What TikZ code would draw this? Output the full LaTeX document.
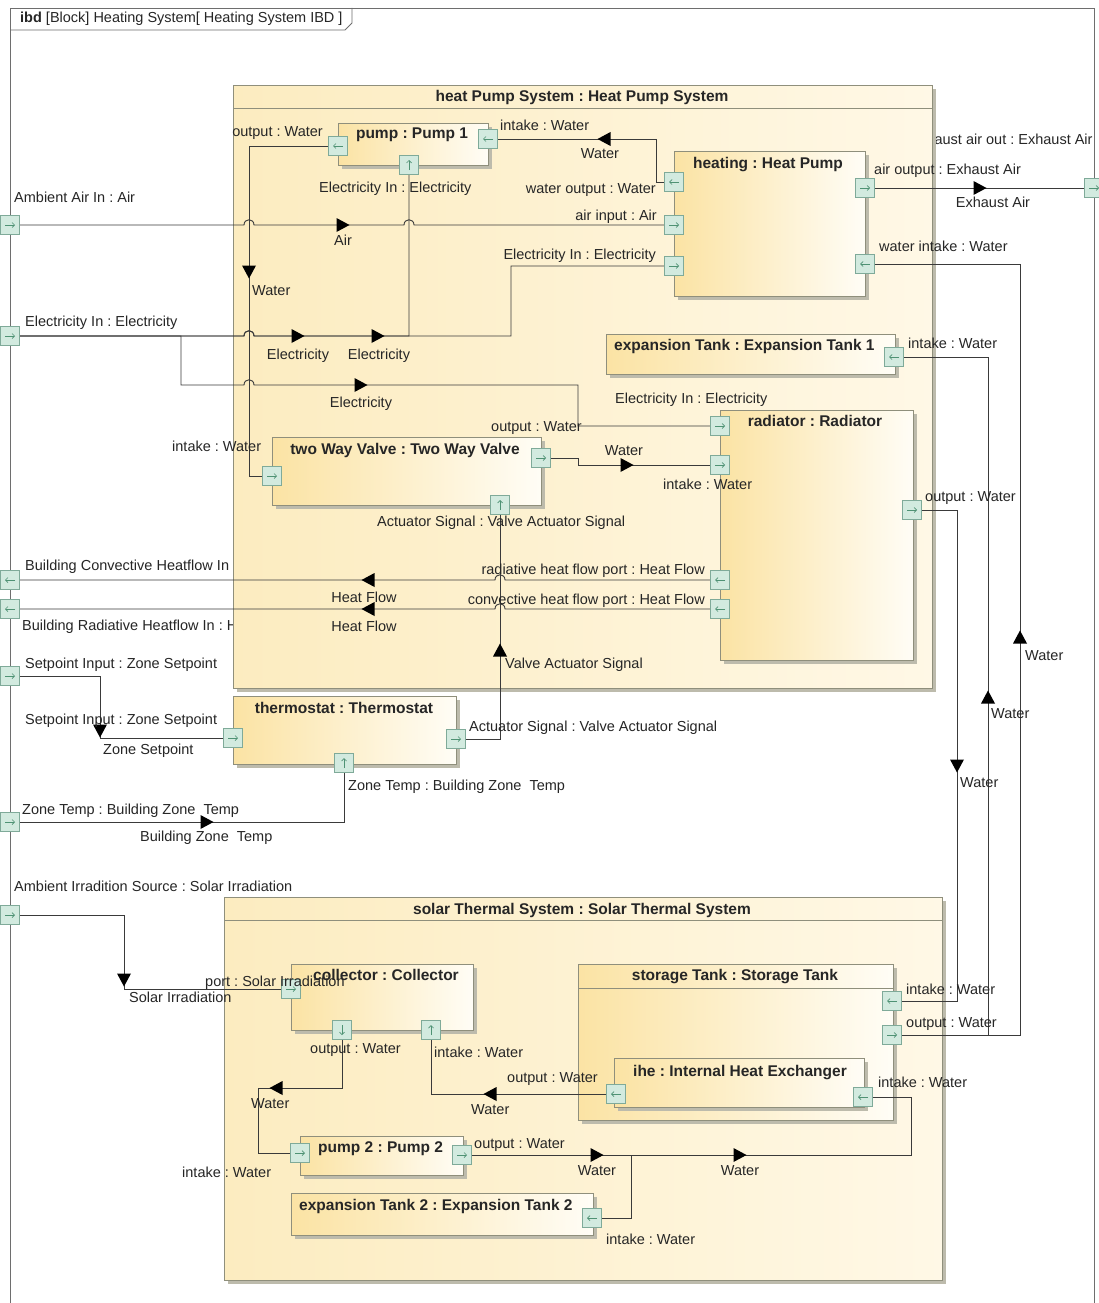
\documentclass[tikz,border=0pt]{standalone}
\usepackage{fontspec}
\setmainfont{Liberation Sans}
\usetikzlibrary{arrows.meta,shadows}
\pgfdeclarelayer{back}
\pgfdeclarelayer{conn}
\pgfsetlayers{back,conn,main}
\frenchspacing

\definecolor{linec}{HTML}{3A3A3A}
\definecolor{txtc}{HTML}{262626}
\definecolor{bordc}{HTML}{8F8F7C}
\definecolor{bigL}{HTML}{FCECC0}
\definecolor{bigR}{HTML}{FFF8E6}
\definecolor{blkL}{HTML}{FBE3A4}
\definecolor{blkR}{HTML}{FFFDF6}
\definecolor{shadc}{HTML}{BDBBAC}
\definecolor{portF}{HTML}{D2EADF}
\definecolor{portD}{HTML}{7FAA99}
\definecolor{glyphc}{HTML}{4F9274}
\definecolor{framec}{HTML}{6E6E6E}

\tikzset{
 lbl/.style={font=\fontsize{14.5}{17}\selectfont, text=txtc, inner sep=0pt},
 ttl/.style={font=\fontsize{15.5}{18}\selectfont\bfseries, text=txtc, inner sep=0pt},
 bigblk/.style={draw=bordc, line width=0.9pt, left color=bigL, right color=bigR,
   drop shadow={shadow xshift=4pt, shadow yshift=-4pt, fill=shadc, opacity=1},
   inner sep=0pt, anchor=north west},
 blk/.style={draw=bordc, line width=0.9pt, left color=blkL, right color=blkR,
   drop shadow={shadow xshift=4pt, shadow yshift=-4pt, fill=shadc, opacity=1},
   inner sep=0pt, anchor=north west},
 port/.style={draw=portD, fill=portF, minimum size=19pt, inner sep=0pt, line width=0.8pt},
 pglyph/.style={draw=glyphc, line width=0.7pt, -{Straight Barb[length=2.5pt,width=5pt]}},
 conn/.style={draw=linec, line width=0.9pt},
 tri/.style={fill=black},
 sep/.style={draw=bordc, line width=0.9pt},
}

\newcommand\mkblk[6][blk]{\node[#1, minimum width={(#5-#3)*1pt}, minimum height={(#6-#4)*1pt}] (#2) at (#3,#4) {};}
\newcommand\portR[3]{\node[port] (#1) at (#2,#3) {}; \draw[pglyph] ({#2-5},#3) -- ({#2+5},#3);}
\newcommand\portL[3]{\node[port] (#1) at (#2,#3) {}; \draw[pglyph] ({#2+5},#3) -- ({#2-5},#3);}
\newcommand\portU[3]{\node[port] (#1) at (#2,#3) {}; \draw[pglyph] (#2,{#3+5}) -- (#2,{#3-5});}
\newcommand\portD[3]{\node[port] (#1) at (#2,#3) {}; \draw[pglyph] (#2,{#3-5}) -- (#2,{#3+5});}
\newcommand\triR[2]{\fill[tri] ({#1-6.5},{#2-7}) -- ({#1+6.5},#2) -- ({#1-6.5},{#2+7}) -- cycle;}
\newcommand\triL[2]{\fill[tri] ({#1+6.5},{#2-7}) -- ({#1-6.5},#2) -- ({#1+6.5},{#2+7}) -- cycle;}
\newcommand\triU[2]{\fill[tri] ({#1-7},{#2+6.5}) -- (#1,{#2-6.5}) -- ({#1+7},{#2+6.5}) -- cycle;}
\newcommand\triD[2]{\fill[tri] ({#1-7},{#2-6.5}) -- (#1,{#2+6.5}) -- ({#1+7},{#2-6.5}) -- cycle;}

\begin{document}
\begin{tikzpicture}[x=1pt,y=-1pt]
\useasboundingbox (0,0) rectangle (1098,1303);

\begin{pgfonlayer}{back}
\fill[white] (0,0) rectangle (1098,1303);
% labels partly hidden by the blocks
\node[lbl,anchor=base west] (lBCH) at (25,570) {Building Convective Heatflow In : Heat Flow};
\node[lbl,anchor=base west] (lBRH) at (22,630) {Building Radiative Heatflow In : Heat Flow};
\node[lbl,anchor=base west] (lEX) at (911,145) {exhaust air out : Exhaust Air};
% frame
\node[draw=framec, line width=0.9pt, anchor=north west, minimum width=1084pt, minimum height=1320pt, inner sep=0pt] (frame) at (10,8) {};
\draw[framec, line width=0.9pt] (10,30) -- (345,30) -- (352,23) -- (352,8);
\node[lbl,anchor=base west] (ftitle) at (20,23) {\textbf{ibd} [Block] Heating System[ Heating System IBD ]};
% heat pump system
\mkblk[bigblk]{hps}{233}{85}{932}{688}
\draw[sep] (233,108) -- (932,108);
\node[ttl,anchor=base] (hpsT) at (582,102) {heat Pump System : Heat Pump System};
\mkblk{pump1}{338}{123}{488}{165}
\node[ttl,anchor=base] (pump1T) at (412,139) {pump : Pump 1};
\mkblk{hp}{674}{151}{865}{296}
\node[ttl,anchor=base] (hpT) at (768,168) {heating : Heat Pump};
\mkblk{et1}{606}{334}{895}{374}
\node[ttl,anchor=base west] (et1T) at (614,350) {expansion Tank : Expansion Tank 1};
\mkblk{twv}{272}{437}{541}{505}
\node[ttl,anchor=base] (twvT) at (405,454) {two Way Valve : Two Way Valve};
\mkblk{rad}{720}{410}{913}{660}
\node[ttl,anchor=base] (radT) at (815,426) {radiator : Radiator};
% thermostat
\mkblk{thermo}{233}{696}{456}{764}
\node[ttl,anchor=base] (thermoT) at (344,713) {thermostat : Thermostat};
% solar thermal system
\mkblk[bigblk]{sts}{224}{897}{942}{1280}
\draw[sep] (224,920) -- (942,920);
\node[ttl,anchor=base] (stsT) at (582,914) {solar Thermal System : Solar Thermal System};
\mkblk{coll}{291}{964}{473}{1030}
\node[ttl,anchor=base] (collT) at (386,980) {collector : Collector};
\mkblk{stank}{578}{964}{893}{1120}
\draw[sep] (578,988) -- (893,988);
\node[ttl,anchor=base] (stankT) at (735,980) {storage Tank : Storage Tank};
\mkblk{ihe}{614}{1058}{864}{1107}
\node[ttl,anchor=base west] (iheT) at (633,1076) {ihe : Internal Heat Exchanger};
\mkblk{pump2}{300}{1136}{463}{1175}
\node[ttl,anchor=base west] (pump2T) at (318,1152) {pump 2 : Pump 2};
\mkblk{et2}{291}{1193}{593}{1235}
\node[ttl,anchor=base west] (et2T) at (299,1210) {expansion Tank 2 : Expansion Tank 2};
\end{pgfonlayer}

% ports
\portR{AAin}{10}{225}
\portR{ELin}{10}{336}
\portL{BCHin}{10}{580}
\portL{BRHin}{10}{609}
\portR{SPin}{10}{676}
\portR{ZTin}{10}{822}
\portR{AISin}{10}{915}
\portR{EXout}{1094}{188}
\portL{P1out}{338}{146}
\portL{P1in}{488}{139}
\portU{P1el}{409}{165}
\portL{HPwo}{674}{182}
\portR{HPai}{674}{225}
\portR{HPel}{674}{266}
\portR{HPao}{865}{188}
\portL{HPwi}{865}{264}
\portL{ET1in}{894}{357}
\portR{TWin}{272}{476}
\portR{TWout}{541}{458}
\portU{TWact}{500}{505}
\portR{RADel}{720}{426}
\portR{RADin}{720}{465}
\portR{RADout}{912}{510}
\portL{RADrad}{720}{580}
\portL{RADconv}{720}{609}
\portR{THsp}{233}{738}
\portR{THact}{456}{739}
\portU{THzt}{344}{763}
\portR{COLport}{291}{989}
\portD{COLout}{342}{1030}
\portU{COLin}{431}{1030}
\portL{STin}{892}{1001}
\portR{STout}{892}{1035}
\portL{IHEout}{616}{1094}
\portL{IHEin}{863}{1097}
\portR{P2in}{300}{1153}
\portR{P2out}{462}{1155}
\portL{ET2in}{592}{1218}

% connectors
\begin{pgfonlayer}{conn}
\draw[conn] (AAin.east) -- (244,225) .. controls (244,218) and (254,218) .. (254,225) -- (404,225) .. controls (404,218) and (414,218) .. (414,225) -- (HPai.west);
\draw[conn] (P1out.west) -- (249,146) -- (249,476) -- (TWin.west);
\draw[conn] (HPwo.west) -- (656,182) -- (656,139) -- (P1in.east);
\draw[conn] (ELin.east) -- (244,336) .. controls (244,329) and (254,329) .. (254,336) -- (409,336) -- (P1el.south);
\draw[conn] (ELin.east) -- (244,336) .. controls (244,329) and (254,329) .. (254,336) -- (511,336) -- (511,266) -- (HPel.west);
\draw[conn] (ELin.east) -- (181,336) -- (181,385) -- (244,385) .. controls (244,378) and (254,378) .. (254,385) -- (578,385) -- (578,426) -- (RADel.west);
\draw[conn] (TWout.east) -- (578,458) -- (578,465) -- (RADin.west);
\draw[conn] (RADrad.west) -- (505,580) .. controls (505,573) and (495,573) .. (495,580) -- (BCHin.east);
\draw[conn] (RADconv.west) -- (505,609) .. controls (505,602) and (495,602) .. (495,609) -- (BRHin.east);
\draw[conn] (THact.east) -- (500,739) -- (TWact.south);
\draw[conn] (SPin.east) -- (100,676) -- (100,738) -- (THsp.west);
\draw[conn] (ZTin.east) -- (344,822) -- (THzt.south);
\draw[conn] (HPao.east) -- (EXout.west);
\draw[conn] (RADout.east) -- (957,510) -- (957,1001) -- (STin.east);
\draw[conn] (STout.east) -- (1020,1035) -- (1020,264) -- (HPwi.east);
\draw[conn] (STout.east) -- (988,1035) -- (988,357) -- (ET1in.east);
\draw[conn] (AISin.east) -- (124,915) -- (124,989) -- (COLport.west);
\draw[conn] (COLout.south) -- (342,1088) -- (258,1088) -- (258,1153) -- (P2in.west);
\draw[conn] (IHEout.west) -- (431,1094) -- (COLin.south);
\draw[conn] (P2out.east) -- (631,1155) -- (631,1218) -- (ET2in.east);
\draw[conn] (P2out.east) -- (911,1155) -- (911,1097) -- (IHEin.east);
\end{pgfonlayer}

% item flow triangles and labels
\triR{343}{225} \node[lbl,anchor=base] (f1) at (343,245) {Air};
\triD{249}{272} \node[lbl,anchor=base west] (f2) at (252,295) {Water};
\triL{604}{139} \node[lbl,anchor=base] (f3) at (600,158) {Water};
\triR{298}{336} \node[lbl,anchor=base] (f4) at (298,359) {Electricity};
\triR{378}{336} \node[lbl,anchor=base] (f5) at (379,359) {Electricity};
\triR{361}{385} \node[lbl,anchor=base] (f6) at (361,407) {Electricity};
\triR{627}{465} \node[lbl,anchor=base] (f7) at (624,455) {Water};
\triL{368}{580} \node[lbl,anchor=base] (f8) at (364,602) {Heat Flow};
\triL{368}{609} \node[lbl,anchor=base] (f9) at (364,631) {Heat Flow};
\triU{500}{650} \node[lbl,anchor=base west] (f10) at (505,668) {Valve Actuator Signal};
\triD{100}{731} \node[lbl,anchor=base west] (f11) at (103,754) {Zone Setpoint};
\triR{207}{822} \node[lbl,anchor=base west] (f12) at (140,841) {Building Zone\ \ Temp};
\triR{980}{188} \node[lbl,anchor=base] (f13) at (993,207) {Exhaust Air};
\triD{957}{766} \node[lbl,anchor=base west] (f14) at (960,787) {Water};
\triU{1020}{637} \node[lbl,anchor=base west] (f15) at (1025,660) {Water};
\triU{988}{697} \node[lbl,anchor=base west] (f16) at (991,718) {Water};
\triD{124}{980} \node[lbl,anchor=base west] (f17) at (129,1002) {Solar Irradiation};
\triL{276}{1088} \node[lbl,anchor=base west] (f18) at (251,1108) {Water};
\triL{490}{1094} \node[lbl,anchor=base west] (f19) at (471,1114) {Water};
\triR{597}{1155} \node[lbl,anchor=base] (f20) at (597,1175) {Water};
\triR{740}{1155} \node[lbl,anchor=base] (f21) at (740,1175) {Water};

% port labels
\node[lbl,anchor=base west] (lAA) at (14,202) {Ambient Air In : Air};
\node[lbl,anchor=base west] (lEL) at (25,326) {Electricity In : Electricity};
\node[lbl,anchor=base west] (lSP) at (25,668) {Setpoint Input : Zone Setpoint};
\node[lbl,anchor=base west] (lZT) at (22,814) {Zone Temp : Building Zone\ \ Temp};
\node[lbl,anchor=base west] (lAIS) at (14,891) {Ambient Irradition Source : Solar Irradiation};
\node[lbl,anchor=base east] (lP1out) at (323,136) {output : Water};
\node[lbl,anchor=base west] (lP1in) at (500,131) {intake : Water};
\node[lbl,anchor=base west] (lP1el) at (319,192) {Electricity In : Electricity};
\node[lbl,anchor=base east] (lHPwo) at (656,193) {water output : Water};
\node[lbl,anchor=base east] (lHPai) at (657,220) {air input : Air};
\node[lbl,anchor=base east] (lHPel) at (656,259) {Electricity In : Electricity};
\node[lbl,anchor=base west] (lHPao) at (874,174) {air output : Exhaust Air};
\node[lbl,anchor=base west] (lHPwi) at (879,251) {water intake : Water};
\node[lbl,anchor=base west] (lET1) at (908,348) {intake : Water};
\node[lbl,anchor=base west] (lTWin) at (172,451) {intake : Water};
\node[lbl,anchor=base west] (lTWout) at (491,431) {output : Water};
\node[lbl,anchor=base west] (lTWact) at (377,526) {Actuator Signal : Valve Actuator Signal};
\node[lbl,anchor=base west] (lRADel) at (615,403) {Electricity In : Electricity};
\node[lbl,anchor=base west] (lRADin) at (663,489) {intake : Water};
\node[lbl,anchor=base west] (lRADout) at (925,501) {output : Water};
\node[lbl,anchor=base east] (lRADrad) at (705,574) {radiative heat flow port : Heat Flow};
\node[lbl,anchor=base east] (lRADconv) at (705,604) {convective heat flow port : Heat Flow};
\node[lbl,anchor=base west] (lTHsp) at (25,724) {Setpoint Input : Zone Setpoint};
\node[lbl,anchor=base west] (lTHact) at (469,731) {Actuator Signal : Valve Actuator Signal};
\node[lbl,anchor=base west] (lTHzt) at (348,790) {Zone Temp : Building Zone\ \ Temp};
\node[lbl,anchor=base west] (lCOLp) at (205,986) {port : Solar Irradiation};
\node[lbl,anchor=base west] (lCOLout) at (310,1053) {output : Water};
\node[lbl,anchor=base west] (lCOLin) at (434,1057) {intake : Water};
\node[lbl,anchor=base west] (lSTin) at (906,994) {intake : Water};
\node[lbl,anchor=base west] (lSTout) at (906,1027) {output : Water};
\node[lbl,anchor=base west] (lIHEout) at (507,1082) {output : Water};
\node[lbl,anchor=base west] (lIHEin) at (878,1087) {intake : Water};
\node[lbl,anchor=base west] (lP2in) at (182,1177) {intake : Water};
\node[lbl,anchor=base west] (lP2out) at (474,1148) {output : Water};
\node[lbl,anchor=base west] (lET2) at (606,1244) {intake : Water};
\end{tikzpicture}
\end{document}
